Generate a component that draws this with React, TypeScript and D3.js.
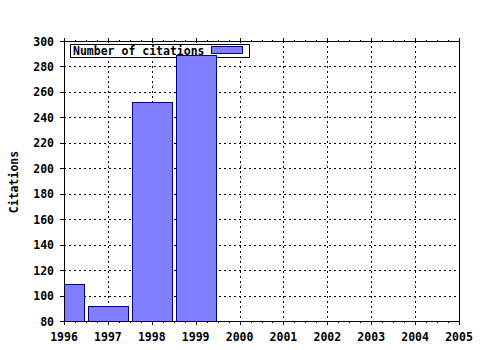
import React from "react";
import * as d3 from "d3";

const years = [1996, 1997, 1998, 1999];
const citations = [109, 92, 252, 289];
const xTickYears = [1996, 1997, 1998, 1999, 2000, 2001, 2002, 2003, 2004, 2005];
const yTicks = [80, 100, 120, 140, 160, 180, 200, 220, 240, 260, 280, 300];
const seriesName = "Number of citations";
const yLabel = "Citations";

const W = 480, H = 350;
const L = 64, R = 459, T = 41, B = 321;
const FONT = "'DejaVu Sans Mono', monospace";

export default function App() {
  const x = d3.scaleLinear().domain([1996, 2005]).range([L, R]);
  const y = d3.scaleLinear().domain([80, 300]).range([B, T]);
  const step = x(1997) - x(1996);
  const bw = step * 0.9;
  const minor: number[] = [];
  for (let i = 0; i < xTickYears.length - 1; i++) {
    for (let k = 1; k < 4; k++) minor.push(xTickYears[i] + k / 4);
  }
  return (
    <svg width={W} height={H} style={{ position: "absolute", left: 0, top: 0, background: "#fff" }}
      fontFamily={FONT} fontWeight="bold" fontSize={11.5}>
      <defs>
        <clipPath id="plot">
          <rect x={L} y={T} width={R - L} height={B - T} />
        </clipPath>
      </defs>
      <rect x={0} y={0} width={W} height={H} fill="#fff" />
      {/* grid */}
      <g stroke="#000" strokeWidth={1} strokeDasharray="2,3" shapeRendering="crispEdges">
        {yTicks.slice(1, -1).map((v) => (
          <line key={"h" + v} x1={L} x2={R} y1={Math.round(y(v)) + 0.5} y2={Math.round(y(v)) + 0.5} />
        ))}
        {xTickYears.slice(1, -1).map((v) => (
          <line key={"v" + v} x1={Math.round(x(v)) + 0.5} x2={Math.round(x(v)) + 0.5} y1={T} y2={B} />
        ))}
      </g>
      {/* legend box */}
      <rect x={70.5} y={44.5} width={179} height={13} fill="#fff" stroke="#000" strokeWidth={1} shapeRendering="crispEdges" />
      {/* bars */}
      <g clipPath="url(#plot)">
        {years.map((yr, i) => (
          <rect key={yr} x={Math.round(x(yr) - bw / 2) + 0.5} y={Math.round(y(citations[i])) + 0.5}
            width={Math.round(bw)} height={B - Math.round(y(citations[i]))}
            fill="#7f7fff" stroke="#000080" strokeWidth={1} shapeRendering="crispEdges" />
        ))}
      </g>
      {/* legend content */}
      <text x={73} y={54.5} fill="#000">{seriesName}</text>
      <rect x={211.5} y={46.5} width={31} height={7} fill="#7f7fff" stroke="#000080" strokeWidth={1} shapeRendering="crispEdges" />
      {/* frame */}
      <rect x={L + 0.5} y={T + 0.5} width={R - L} height={B - T} fill="none" stroke="#000" strokeWidth={1} shapeRendering="crispEdges" />
      {/* y ticks */}
      <g stroke="#000" shapeRendering="crispEdges">
        {yTicks.map((v) => (
          <line key={"yt" + v} x1={L - 4} x2={L} y1={Math.round(y(v)) + 0.5} y2={Math.round(y(v)) + 0.5} />
        ))}
        {xTickYears.map((v) => (
          <g key={"xt" + v}>
            <line x1={Math.round(x(v)) + 0.5} x2={Math.round(x(v)) + 0.5} y1={B} y2={B + 4} />
            <line x1={Math.round(x(v)) + 0.5} x2={Math.round(x(v)) + 0.5} y1={T - 3} y2={T + 1} />
          </g>
        ))}
        {minor.map((v, i) => (
          <g key={"mt" + i}>
            <line x1={Math.round(x(v)) + 0.5} x2={Math.round(x(v)) + 0.5} y1={B} y2={B + 2} />
            <line x1={Math.round(x(v)) + 0.5} x2={Math.round(x(v)) + 0.5} y1={T - 1} y2={T + 1} />
          </g>
        ))}
      </g>
      {/* y labels */}
      {yTicks.map((v) => (
        <text key={"yl" + v} x={54} y={y(v) + 4.5} textAnchor="end" fill="#000">{v}</text>
      ))}
      {/* x labels */}
      {xTickYears.map((v) => (
        <text key={"xl" + v} x={x(v)} y={341} textAnchor="middle" fill="#000">{v}</text>
      ))}
      <text transform={`translate(17.5, ${(T + B) / 2 + 1}) rotate(-90)`} textAnchor="middle" fill="#000">{yLabel}</text>
    </svg>
  );
}
